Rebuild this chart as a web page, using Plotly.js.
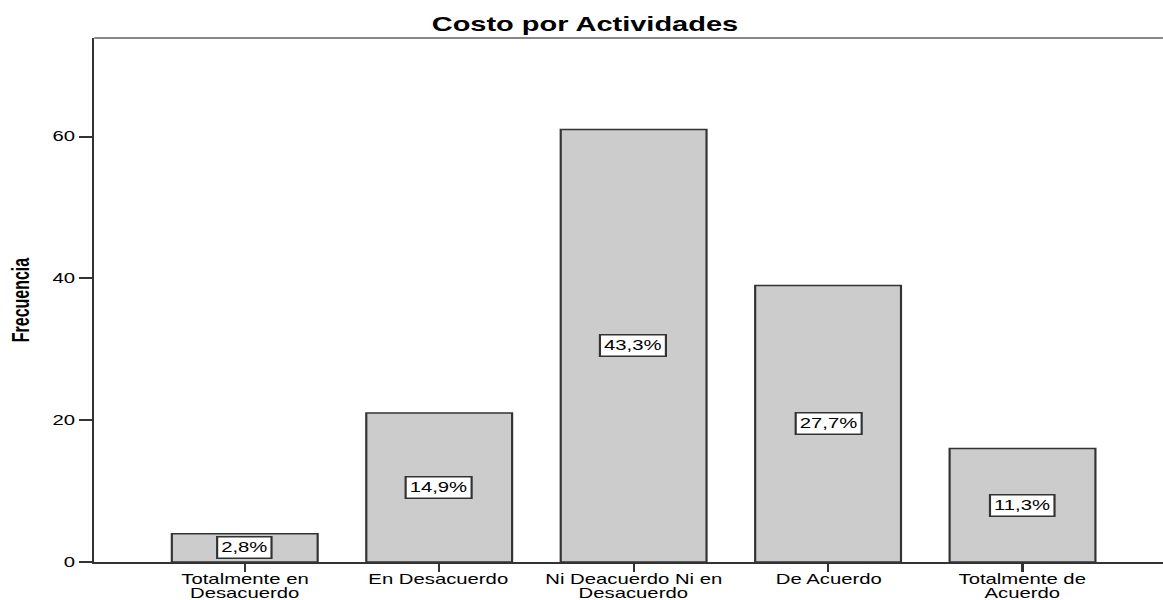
<!DOCTYPE html>
<html>
<head>
<meta charset="utf-8">
<script src="https://cdn.plot.ly/plotly-3.0.1.min.js"></script>
<style>
html,body{margin:0;padding:0;background:#fff;overflow:hidden;}
#wrap{width:1163px;height:600px;overflow:hidden;}
#chart{width:802px;height:600px;transform:scaleX(1.45);transform-origin:0 0;}
</style>
</head>
<body>
<div id="wrap"><div id="chart"></div></div>
<script>
var categories = ["Totalmente en<br>Desacuerdo", "En Desacuerdo", "Ni Deacuerdo Ni en<br>Desacuerdo", "De Acuerdo", "Totalmente de<br>Acuerdo"];
var frecuencia = [4, 21, 61, 39, 16];
var porcentajes = ["2,8%", "14,9%", "43,3%", "27,7%", "11,3%"];
var yTicks = [0, 20, 40, 60];

var FONT = 'Liberation Sans, Arial, sans-serif';
var idx = categories.map(function(_, i){ return i; });

var trace = {
  type: 'bar',
  x: idx,
  y: frecuencia,
  width: 0.75,
  marker: { color: '#cccccc', line: { color: '#333333', width: 1.5 } },
  hoverinfo: 'none'
};

var annotations = idx.map(function(i){
  return {
    x: i, y: frecuencia[i] / 2, xref: 'x', yref: 'y',
    text: porcentajes[i], showarrow: false,
    font: { family: FONT, size: 14, color: '#000' },
    bgcolor: '#ffffff', bordercolor: '#333333', borderwidth: 1.5, borderpad: 2
  };
});

// category labels (drawn line by line for tight line spacing)
idx.forEach(function(i){
  categories[i].split('<br>').forEach(function(line, j){
    annotations.push({
      x: i, y: 0, xref: 'x', yref: 'y', yanchor: 'top',
      yshift: -7 - j * 14,
      text: line, showarrow: false,
      font: { family: FONT, size: 14, color: '#000' }
    });
  });
});

var layout = {
  width: 802, height: 600,
  margin: { l: 65, r: 0, t: 38, b: 38 },
  paper_bgcolor: '#ffffff', plot_bgcolor: '#ffffff',
  showlegend: false,
  title: {
    text: '<b>Costo por Actividades</b>',
    x: 0.503, xref: 'container', xanchor: 'center', y: 0.96, yanchor: 'middle',
    font: { family: FONT, size: 20, color: '#000' }
  },
  xaxis: {
    range: [-0.774, 4.722],
    tickmode: 'array', tickvals: idx, showticklabels: false,
    ticks: 'outside', ticklen: 8, tickwidth: 1.5, tickcolor: '#333',
    showline: true, linecolor: '#333', linewidth: 1.5,
    showgrid: false, zeroline: false,
    fixedrange: true
  },
  yaxis: {
    range: [0, 73.9],
    tickmode: 'array', tickvals: yTicks,
    ticks: 'outside', ticklen: 9, tickwidth: 2, tickcolor: '#333',
    showline: true, linecolor: '#333', linewidth: 1.5,
    showgrid: false, zeroline: false,
    tickfont: { family: FONT, size: 14, color: '#000' },
    title: { text: '<b>Frecuencia</b>', standoff: 11,
      font: { family: FONT, size: 16, color: '#000' } },
    fixedrange: true
  },
  shapes: [{
    type: 'line', xref: 'paper', yref: 'paper', x0: 0, x1: 1, y0: 1, y1: 1,
    line: { color: '#888888', width: 2 }
  }],
  annotations: annotations
};

Plotly.newPlot('chart', [trace], layout, { displayModeBar: false, staticPlot: true });
</script>
</body>
</html>
